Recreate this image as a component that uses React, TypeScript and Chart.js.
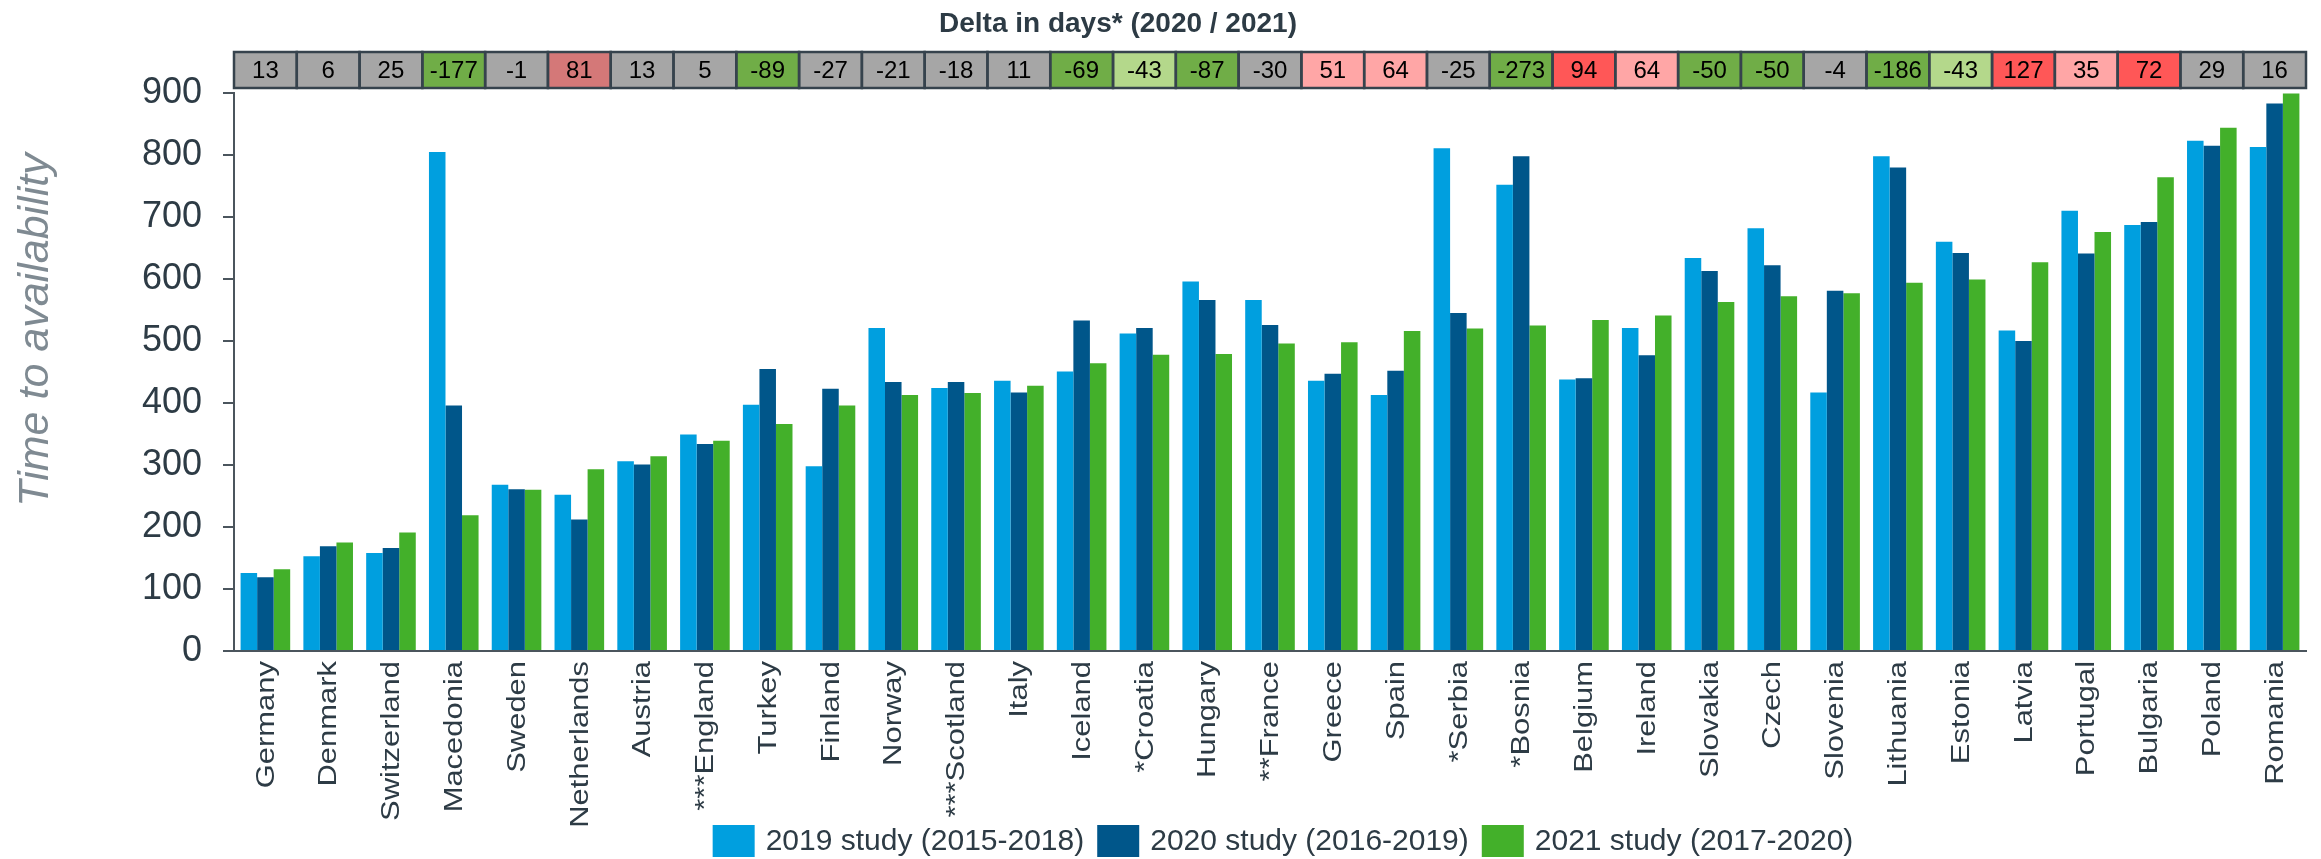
import React, { useEffect, useRef } from 'react';
import { Chart, registerables } from 'chart.js';

Chart.register(...registerables);

const categories = [
  'Germany', 'Denmark', 'Switzerland', 'Macedonia', 'Sweden', 'Netherlands', 'Austria',
  '***England', 'Turkey', 'Finland', 'Norway', '***Scotland', 'Italy', 'Iceland', '*Croatia',
  'Hungary', '**France', 'Greece', 'Spain', '*Serbia', '*Bosnia', 'Belgium', 'Ireland',
  'Slovakia', 'Czech', 'Slovenia', 'Lithuania', 'Estonia', 'Latvia', 'Portugal', 'Bulgaria',
  'Poland', 'Romania',
];

const study2019 = [126, 153, 158, 805, 268, 252, 306, 349, 397, 298, 521, 424, 436, 451, 512, 596, 566, 436, 413, 811, 752, 438, 521, 634, 682, 417, 798, 660, 517, 710, 687, 823, 813];
const study2020 = [119, 169, 166, 396, 261, 212, 301, 334, 455, 423, 434, 434, 417, 533, 521, 566, 526, 447, 452, 545, 798, 440, 477, 613, 622, 581, 780, 642, 500, 641, 692, 815, 883];
const study2021 = [132, 175, 191, 219, 260, 293, 314, 339, 366, 396, 413, 416, 428, 464, 478, 479, 496, 498, 516, 520, 525, 534, 541, 563, 572, 577, 594, 599, 627, 676, 764, 844, 899];

const deltaDays = [13, 6, 25, -177, -1, 81, 13, 5, -89, -27, -21, -18, 11, -69, -43, -87, -30, 51, 64, -25, -273, 94, 64, -50, -50, -4, -186, -43, 127, 35, 72, 29, 16];
// rating class of each delta cell: n = neutral, G = strong improvement, g = improvement,
// M = moderate deterioration (muted), r = deterioration, R = strong deterioration
const deltaRating = ['n', 'n', 'n', 'G', 'n', 'M', 'n', 'n', 'G', 'n', 'n', 'n', 'n', 'G', 'g', 'G', 'n', 'r', 'r', 'n', 'G', 'R', 'r', 'G', 'G', 'n', 'G', 'g', 'R', 'r', 'R', 'n', 'n'];

const seriesLabels = ['2019 study (2015-2018)', '2020 study (2016-2019)', '2021 study (2017-2020)'];
const yAxisTitle = 'Time to availability';
const topTitle = 'Delta in days* (2020 / 2021)';

const W = 2321;
const H = 859;
const DARK = '#2d3b45';
const AXIS = '#4b555d';
const FONT = "'Liberation Sans', Arial, Helvetica, sans-serif";

const ratingColors: Record<string, string> = {
  n: '#a6a6a6',
  G: '#70ad47',
  g: '#b4d88b',
  M: '#d47878',
  r: '#ffa6a6',
  R: '#ff5757',
};

const decorPlugin = {
  id: 'decor',
  afterDraw(chart: any) {
    const { ctx, chartArea } = chart;
    const xs = chart.scales.x;
    const n = categories.length;
    const cw = (chartArea.right - chartArea.left) / n;
    ctx.save();

    // Title
    ctx.fillStyle = DARK;
    ctx.font = `bold 28px ${FONT}`;
    ctx.textAlign = 'center';
    ctx.textBaseline = 'alphabetic';
    ctx.fillText(topTitle, 1118, 32);

    // Delta row
    const top = 52;
    const bottom = 88;
    for (let i = 0; i < n; i++) {
      const cx = xs.getPixelForValue(i);
      ctx.fillStyle = ratingColors[deltaRating[i]];
      ctx.fillRect(cx - cw / 2, top, cw, bottom - top);
    }
    ctx.strokeStyle = '#36434d';
    ctx.lineWidth = 2.5;
    for (let i = 0; i < n; i++) {
      const cx = xs.getPixelForValue(i);
      ctx.strokeRect(cx - cw / 2, top, cw, bottom - top);
    }
    ctx.fillStyle = '#000000';
    ctx.font = `24px ${FONT}`;
    ctx.textAlign = 'center';
    ctx.textBaseline = 'middle';
    for (let i = 0; i < n; i++) {
      ctx.fillText(String(deltaDays[i]), xs.getPixelForValue(i), (top + bottom) / 2 + 1);
    }

    // Category labels (rotated, slightly stretched along the text)
    ctx.fillStyle = DARK;
    ctx.font = `26px ${FONT}`;
    ctx.textAlign = 'right';
    ctx.textBaseline = 'middle';
    for (let i = 0; i < n; i++) {
      ctx.save();
      ctx.translate(xs.getPixelForValue(i) + 1, chartArea.bottom + 10);
      ctx.rotate(-Math.PI / 2);
      ctx.scale(1.19, 1);
      ctx.fillText(categories[i], 0, 0);
      ctx.restore();
    }

    // Y axis title
    ctx.save();
    ctx.translate(36, 330);
    ctx.rotate(-Math.PI / 2);
    ctx.fillStyle = '#7f8a92';
    ctx.font = `italic 43px ${FONT}`;
    ctx.textAlign = 'center';
    ctx.textBaseline = 'middle';
    ctx.fillText(yAxisTitle, 0, 0);
    ctx.restore();

    // Legend
    ctx.font = `30px ${FONT}`;
    const boxW = 42;
    const boxH = 32;
    const gapText = 11;
    const gapItem = 13;
    const ds = chart.data.datasets;
    const widths = ds.map((d: any) => boxW + gapText + ctx.measureText(d.label).width);
    const total = widths.reduce((a: number, b: number) => a + b, 0) + gapItem * (ds.length - 1);
    let x = (chartArea.left + chartArea.right) / 2 + 13 - total / 2;
    const boxTop = 825;
    ctx.textAlign = 'left';
    ctx.textBaseline = 'middle';
    ds.forEach((d: any, i: number) => {
      ctx.fillStyle = d.backgroundColor;
      ctx.fillRect(x, boxTop, boxW, boxH);
      ctx.fillStyle = DARK;
      ctx.fillText(d.label, x + boxW + gapText, boxTop + boxH / 2 + 1);
      x += widths[i] + gapItem;
    });

    ctx.restore();
  },
};

export default function App() {
  const ref = useRef<HTMLCanvasElement>(null);

  useEffect(() => {
    document.body.style.margin = '0';
    const canvas = ref.current;
    if (!canvas) return;
    const chart = new Chart(canvas, {
      type: 'bar',
      data: {
        labels: categories,
        datasets: [
          { label: seriesLabels[0], data: study2019, backgroundColor: '#009fdf', borderWidth: 0, categoryPercentage: 0.79, barPercentage: 1.0 },
          { label: seriesLabels[1], data: study2020, backgroundColor: '#00568a', borderWidth: 0, categoryPercentage: 0.79, barPercentage: 1.0 },
          { label: seriesLabels[2], data: study2021, backgroundColor: '#43b02a', borderWidth: 0, categoryPercentage: 0.79, barPercentage: 1.0 },
        ],
      },
      options: {
        responsive: false,
        animation: false,
        devicePixelRatio: 1,
        layout: { padding: { top: 93, right: 15, left: 0, bottom: 0 } },
        font: { family: FONT },
        plugins: {
          legend: { display: false },
          tooltip: { enabled: false },
          title: { display: false },
        },
        scales: {
          x: {
            grid: { display: false, drawTicks: false },
            border: { display: true, color: AXIS, width: 2 },
            ticks: { display: false, autoSkip: false },
            afterFit: (s: any) => { s.height = 208; },
          },
          y: {
            min: 0,
            max: 900,
            ticks: {
              stepSize: 100,
              padding: 21,
              color: DARK,
              font: { family: FONT, size: 36 },
            },
            grid: {
              drawOnChartArea: false,
              drawTicks: true,
              tickLength: 11,
              color: AXIS,
              tickColor: AXIS,
              lineWidth: 2,
            },
            border: { display: true, color: AXIS, width: 2 },
            afterFit: (s: any) => { s.width = 234; },
          },
        },
      } as any,
      plugins: [decorPlugin],
    });
    return () => chart.destroy();
  }, []);

  return (
    <div style={{ width: W, height: H, background: '#ffffff' }}>
      <canvas ref={ref} width={W} height={H} style={{ width: W, height: H, display: 'block' }} />
    </div>
  );
}
